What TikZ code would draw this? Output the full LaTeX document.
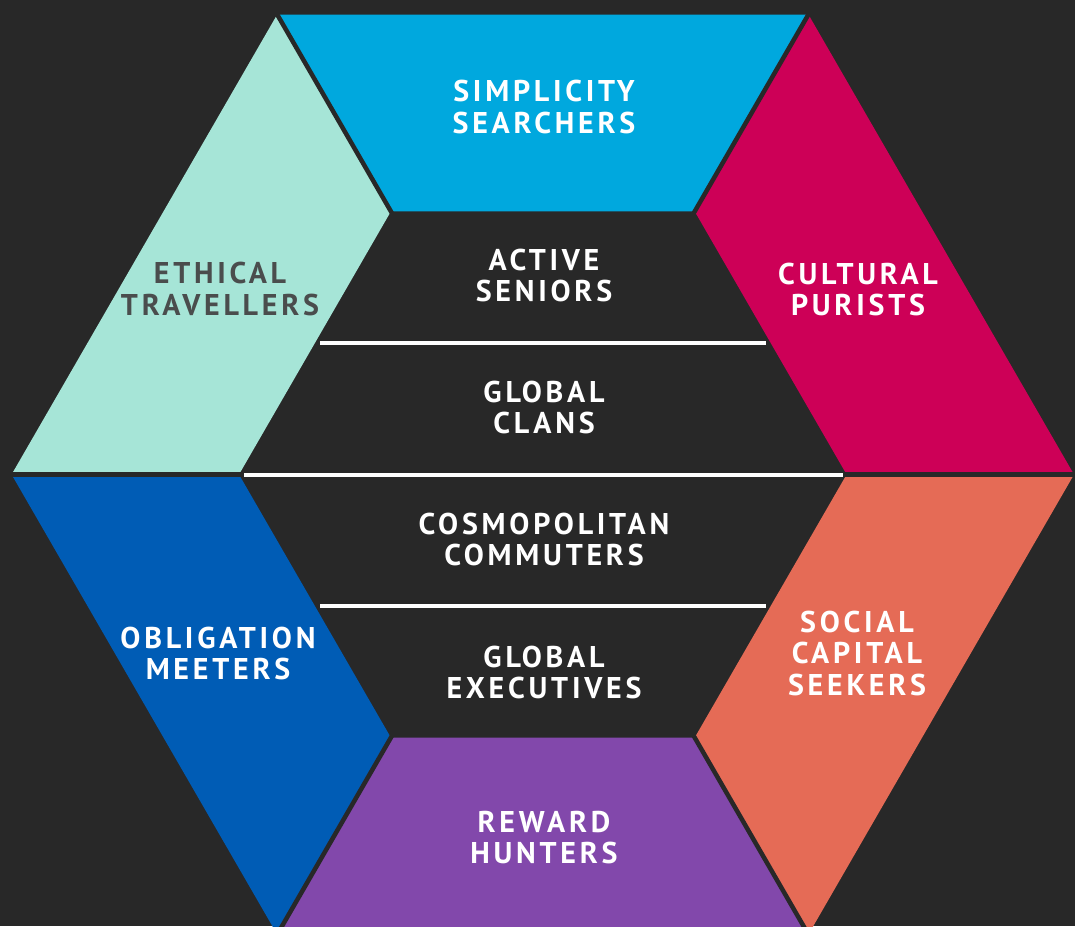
\documentclass[tikz,border=0pt]{standalone}
\usepackage{fontspec}
\usetikzlibrary{calc}
\newfontfamily\labfont[LetterSpace=12.5]{PT Sans}
\definecolor{bg}{HTML}{282828}
\definecolor{cTop}{HTML}{00A8DE}
\definecolor{cTeal}{HTML}{A6E5D7}
\definecolor{cMag}{HTML}{CD0057}
\definecolor{cRoyal}{HTML}{005CB5}
\definecolor{cPurp}{HTML}{8248AB}
\definecolor{cCoral}{HTML}{E56B56}
\definecolor{cGrayTxt}{HTML}{4A4D4D}
\begin{document}
\begin{tikzpicture}[x=1pt,y=-1pt,
  lab/.style={align=center,text=white,inner sep=0pt,
    font=\labfont\bfseries\fontsize{30}{31.5}\selectfont},
  divider/.style={draw=bg,line width=4.5pt},
  sep/.style={draw=white,line width=4pt}]
\fill[bg] (0,0) rectangle (1075,926);
\useasboundingbox (0,0) rectangle (1075,926);
% outer hexagon vertices
\coordinate (O0) at (1074,474.5);
\coordinate (O1) at (808.4,14.5);
\coordinate (O2) at (277.2,14.5);
\coordinate (O3) at (11.6,474.5);
\coordinate (O4) at (277.2,934.5);
\coordinate (O5) at (808.4,934.5);
% inner hexagon vertices
\coordinate (I0) at (846.6,474.5);
\coordinate (I1) at (694.7,211.4);
\coordinate (I2) at (390.9,211.4);
\coordinate (I3) at (239,474.5);
\coordinate (I4) at (390.9,737.6);
\coordinate (I5) at (694.7,737.6);
% pieces
\fill[cTop]   (O2) -- (O1) -- (I1) -- (I2) -- cycle;
\fill[cMag]   (O1) -- (O0) -- (I0) -- (I1) -- cycle;
\fill[cCoral] (O0) -- (O5) -- (I5) -- (I0) -- cycle;
\fill[cPurp]  (O5) -- (O4) -- (I4) -- (I5) -- cycle;
\fill[cRoyal] (O4) -- (O3) -- (I3) -- (I4) -- cycle;
\fill[cTeal]  (O3) -- (O2) -- (I2) -- (I3) -- cycle;
% dividers
\draw[divider] ($(O0)!-0.05!(I0)$) -- ($(O0)!1.02!(I0)$);
\draw[divider] ($(O1)!-0.05!(I1)$) -- ($(O1)!1.02!(I1)$);
\draw[divider] ($(O2)!-0.05!(I2)$) -- ($(O2)!1.02!(I2)$);
\draw[divider] ($(O3)!-0.05!(I3)$) -- ($(O3)!1.02!(I3)$);
\draw[divider] ($(O4)!-0.05!(I4)$) -- ($(O4)!1.02!(I4)$);
\draw[divider] ($(O5)!-0.05!(I5)$) -- ($(O5)!1.02!(I5)$);
% white separators
\coordinate (s1a) at (320,343);  \coordinate (s1b) at (766,343);
\coordinate (s2a) at (244,474.5); \coordinate (s2b) at (843,474.5);
\coordinate (s3a) at (320,606);  \coordinate (s3b) at (766,606);
\draw[sep] (s1a) -- (s1b);
\draw[sep] (s2a) -- (s2b);
\draw[sep] (s3a) -- (s3b);
% labels
\node[lab] (simp) at (544,107) {SIMPLICITY\\SEARCHERS};
\node[lab] (act)  at (544,275.5) {ACTIVE\\SENIORS};
\node[lab] (clan) at (544,407.5) {GLOBAL\\CLANS};
\node[lab] (cosm) at (544,539.5) {COSMOPOLITAN\\COMMUTERS};
\node[lab] (exec) at (544,672.5) {GLOBAL\\EXECUTIVES};
\node[lab] (rew)  at (544,837.5) {REWARD\\HUNTERS};
\node[lab,text=cGrayTxt] (eth) at (220,289) {ETHICAL\\TRAVELLERS};
\node[lab] (cult) at (858,289.5) {CULTURAL\\PURISTS};
\node[lab] (obl)  at (218,653.5) {OBLIGATION\\MEETERS};
\node[lab] (soc)  at (857,653) {SOCIAL\\CAPITAL\\SEEKERS};
\end{tikzpicture}
\end{document}
